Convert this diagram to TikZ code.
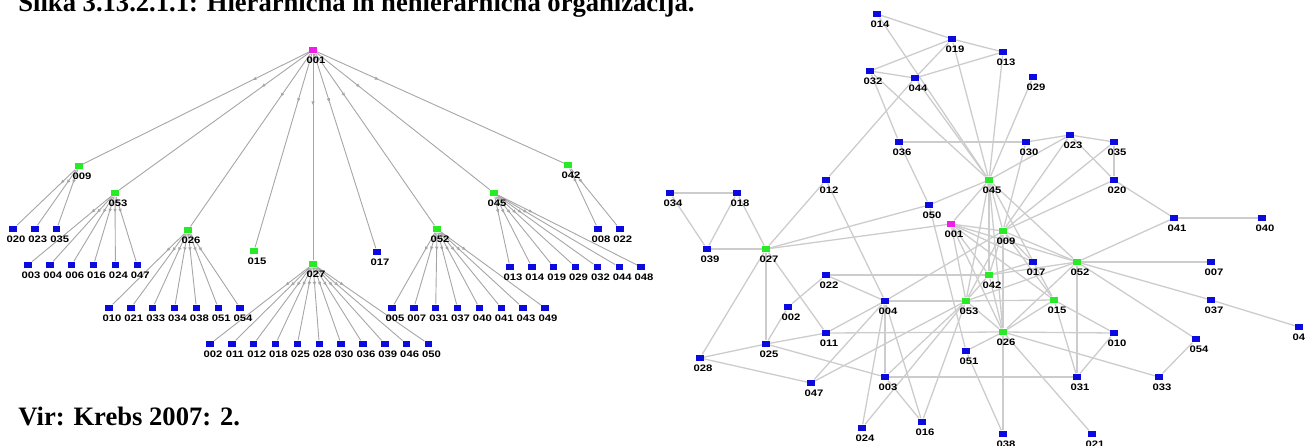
\documentclass[tikz,border=0pt]{standalone}
\usepackage{fontspec}
\setmainfont{Liberation Serif}
\newfontfamily\numfont{Liberation Sans}[FakeStretch=1.2]
\usetikzlibrary{arrows.meta}
\usetikzlibrary{backgrounds}
\usetikzlibrary{decorations.markings}
\definecolor{nodeblue}{RGB}{10,10,225}
\definecolor{nodegreen}{RGB}{40,235,40}
\definecolor{nodepink}{RGB}{240,30,230}
\tikzset{sq/.style={rectangle, fill=#1, minimum width=3.7pt, minimum height=3.3pt, inner sep=0pt}}
\tikzset{num/.style={font=\numfont\fontsize{4.7}{5}\selectfont\bfseries, inner sep=0pt, xshift=1.5pt}}
\tikzset{title/.style={anchor=base west, inner sep=0pt, font=\fontsize{13.3}{15}\selectfont\bfseries}}
\tikzset{treeedge/.style={draw=gray!70, line width=0.45pt}}
\tikzset{netedge/.style={draw=gray!40, line width=0.65pt}}
\tikzset{mid/.style={decoration={
      markings,
      mark=at position 0.25 with {\arrow{Latex[length=2pt,width=1.8pt]}}},postaction={decorate}}}

\begin{document}
\begin{tikzpicture}[x=0.5pt, y=-0.5pt, label distance=1.5pt]
\useasboundingbox (0,0) rectangle (1305,445);

\node[title] (caption) at (18,11) {Slika 3.13.2.1.1: Hierarhična in nehierarhična organizacija.};
\node[title] (source) at (18,425) {Vir: Krebs 2007: 2.};

\node[sq=nodepink, label={[num]below:001}] (t001) at (313,50) {};
\node[sq=nodegreen, label={[num]below:009}] (t009) at (79,166) {};
\node[sq=nodegreen, label={[num]below:053}] (t053) at (115,193) {};
\node[sq=nodegreen, label={[num]below:026}] (t026) at (188,230) {};
\node[sq=nodegreen, label={[num]below:015}] (t015) at (254,251) {};
\node[sq=nodegreen, label={[num]below:027}] (t027) at (313,264) {};
\node[sq=nodeblue, label={[num]below:017}] (t017) at (377,252) {};
\node[sq=nodegreen, label={[num]below:052}] (t052) at (437,229) {};
\node[sq=nodegreen, label={[num]below:045}] (t045) at (494,193) {};
\node[sq=nodegreen, label={[num]below:042}] (t042) at (568,165) {};

\begin{pgfonlayer}{background}
\foreach \c in {009,053,026,015,027,017,052,045,042}
  \draw[treeedge, mid] (t001) -- (t\c);
\end{pgfonlayer}

\foreach \p/\x/\y/\kids in {009/13/229/{020,023,035},
    053/28/265/{003,004,006,016,024,047},
    026/109/308/{010,021,033,034,038,051,054},
    027/210/344/{002,011,012,018,025,028,030,036,039,046,050},
    052/392/308/{005,007,031,037,040,041,043,049},
    045/510/267/{013,014,019,029,032,044,048},
    042/598/229/{008,022}}
  \foreach \k [count=\i from 0] in \kids {
    \node[sq=nodeblue, label={[num]below:\k}] (t\k) at (\x+21.85*\i,\y) {};
    \begin{pgfonlayer}{background}
    \draw[treeedge, mid] (t\p) -- (t\k);
    \end{pgfonlayer}
  }

\foreach \c/\x/\y in {014/877/14, 019/952/39, 013/1003/52, 032/870/71, 044/915/78,
    029/1033/77, 036/899/142, 030/1026/142, 023/1070/135, 035/1114/142,
    020/1114/180, 012/826/180, 034/670/193, 018/737/193, 050/929/205,
    041/1174/218, 040/1262/218, 039/707/249, 017/1033/262, 007/1211/262,
    022/826/275, 004/885/301, 037/1211/300, 002/788/307, 010/1114/333,
    043/1299/327, 054/1196/339, 011/826/333, 025/766/344, 051/966/351,
    028/700/358, 003/885/377, 031/1077/377, 033/1159/377, 047/811/383,
    016/922/422, 024/862/428, 038/1003/434, 021/1092/434}
  \node[sq=nodeblue, label={[num]below:\c}] (n\c) at (\x,\y) {};
\foreach \c/\x/\y in {045/989/180, 009/1003/231, 027/766/249, 052/1077/262,
    042/989/275, 053/966/301, 015/1054/300, 026/1003/332}
  \node[sq=nodegreen, label={[num]below:\c}] (n\c) at (\x,\y) {};
\node[sq=nodepink, label={[num]below:001}] (n001) at (951,224) {};

\begin{pgfonlayer}{background}
\foreach \a/\b in {014/019, 014/045, 019/013, 019/032, 019/044, 019/045, 044/013,
    032/044, 032/036, 032/045, 044/045, 044/012, 013/045, 029/045,
    036/030, 036/050, 050/051, 050/045, 050/027, 030/023, 030/009,
    023/035, 023/020, 023/045, 023/009, 035/020, 035/009, 020/009,
    020/041, 041/040, 041/052,
    034/018, 034/039, 018/039, 018/027, 039/027, 012/027, 012/004,
    027/001, 027/028, 027/025, 027/011,
    022/002, 002/025, 022/004, 022/042,
    004/053, 004/011, 004/047, 004/003, 004/024, 004/016, 004/009,
    011/026, 011/025, 025/028, 025/003, 028/047, 047/053, 003/031,
    003/053, 003/016, 016/053, 024/053,
    051/026, 051/038, 026/038, 026/021, 026/033, 026/010, 010/031,
    015/031, 015/010, 052/031, 033/054, 054/052, 052/037, 037/043, 052/007,
    001/009, 001/053, 001/026, 001/015, 001/017, 001/052, 001/045, 001/042,
    045/009, 045/042, 045/053, 045/026, 045/015, 045/052,
    009/042, 009/053, 009/026, 009/052, 009/015, 009/017,
    042/053, 042/026, 042/052, 042/017,
    053/015, 053/026, 053/052, 026/015, 026/052}
  \draw[netedge] (n\a) -- (n\b);
\end{pgfonlayer}
\end{tikzpicture}
\end{document}
